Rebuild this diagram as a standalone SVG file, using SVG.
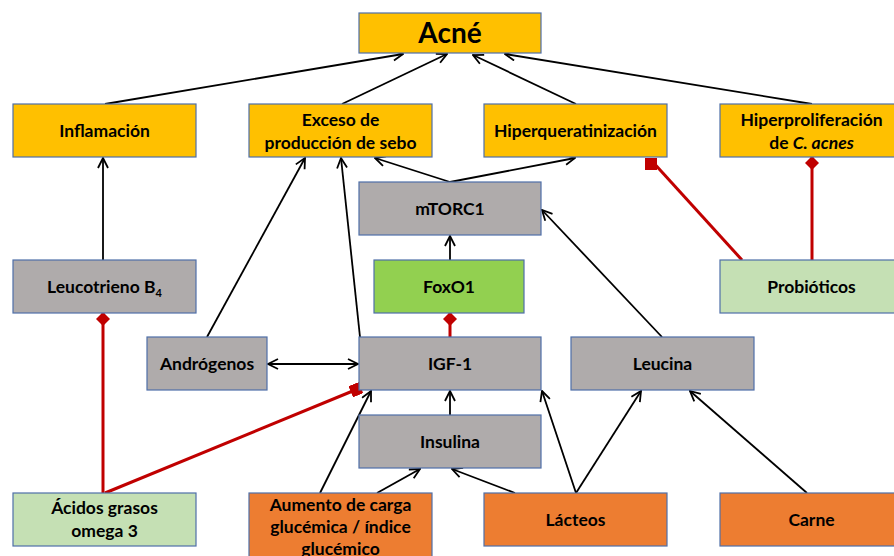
<svg xmlns="http://www.w3.org/2000/svg" width="894" height="556" viewBox="0 0 894 556">
<defs>
<style>
.b{stroke:#4F6FA8;stroke-width:1.2}
.y{fill:#FFC000}.g{fill:#AFABAB}.lg{fill:#C5E0B4}.gr{fill:#92D050}.o{fill:#ED7D31}
text{font-family:Lato,"Liberation Sans",sans-serif;font-weight:bold;font-size:17.5px;fill:#000;text-anchor:middle}
.k{stroke:#000;stroke-width:1.8;fill:none}
.r{stroke:#C00000;stroke-width:3;fill:none}
</style>
<marker id="a" viewBox="0 0 12 12" refX="11" refY="6" markerWidth="12" markerHeight="12" markerUnits="userSpaceOnUse" orient="auto-start-reverse">
<path d="M1,1 L11,6 L1,11" fill="none" stroke="#000" stroke-width="1.8"/>
</marker>
<marker id="d" viewBox="0 0 14 14" refX="13" refY="7" markerWidth="14" markerHeight="14" markerUnits="userSpaceOnUse" orient="auto">
<path d="M0,7 L7,0 L14,7 L7,14 Z" fill="#C00000"/>
</marker>
<marker id="s" viewBox="0 0 12 12" refX="10" refY="6" markerWidth="12" markerHeight="12" markerUnits="userSpaceOnUse" orient="auto">
<rect x="0" y="0" width="11" height="12" fill="#C00000"/>
</marker>
<marker id="s0" viewBox="0 0 12 12" refX="6" refY="2" markerWidth="12" markerHeight="12" markerUnits="userSpaceOnUse" orient="0">
<rect x="0" y="0" width="12" height="12" fill="#C00000"/>
</marker>
</defs>
<g id="connectors">
<line class="k" x1="105" y1="104" x2="403" y2="54" marker-end="url(#a)"/>
<line class="k" x1="342" y1="104" x2="447" y2="54" marker-end="url(#a)"/>
<line class="k" x1="576" y1="104" x2="473" y2="55" marker-end="url(#a)"/>
<line class="k" x1="812" y1="104" x2="505" y2="54" marker-end="url(#a)"/>
<line class="k" x1="103" y1="260" x2="103" y2="158" marker-end="url(#a)"/>
<line class="k" x1="207" y1="337" x2="305" y2="158" marker-end="url(#a)"/>
<line class="k" x1="360" y1="337" x2="341" y2="158" marker-end="url(#a)"/>
<line class="k" x1="450" y1="182" x2="375" y2="158" marker-end="url(#a)"/>
<line class="k" x1="450" y1="182" x2="575" y2="158" marker-end="url(#a)"/>
<line class="k" x1="450" y1="260" x2="450" y2="236" marker-end="url(#a)"/>
<line class="k" x1="662" y1="337" x2="542" y2="210" marker-end="url(#a)"/>
<line class="k" x1="268" y1="364" x2="358" y2="364" marker-start="url(#a)" marker-end="url(#a)"/>
<line class="k" x1="320" y1="493" x2="371" y2="391" marker-end="url(#a)"/>
<line class="k" x1="377" y1="493" x2="420" y2="469" marker-end="url(#a)"/>
<line class="k" x1="450" y1="415" x2="450" y2="391" marker-end="url(#a)"/>
<line class="k" x1="515" y1="493" x2="452" y2="469" marker-end="url(#a)"/>
<line class="k" x1="576" y1="493" x2="542" y2="391" marker-end="url(#a)"/>
<line class="k" x1="576" y1="493" x2="641" y2="391" marker-end="url(#a)"/>
<line class="k" x1="807" y1="493" x2="690" y2="391" marker-end="url(#a)"/>
<line class="r" x1="450" y1="337" x2="450" y2="313" marker-end="url(#d)"/>
<line class="r" x1="103" y1="493" x2="103" y2="313" marker-end="url(#d)"/>
<line class="r" x1="105" y1="493" x2="360" y2="388" marker-end="url(#s)"/>
<line class="r" x1="742" y1="260" x2="651" y2="160" marker-end="url(#s0)"/>
<line class="r" x1="812" y1="260" x2="812" y2="157" marker-end="url(#d)"/>
</g>
<g id="acne"><rect class="y b" x="359" y="13" width="182" height="40"/><text x="450" y="43" style="font-size:28px">Acné</text></g>
<g id="inflamacion"><rect class="y b" x="13" y="104" width="183" height="53"/><text x="104.5" y="137">Inflamación</text></g>
<g id="exceso"><rect class="y b" x="249" y="104" width="183" height="53"/><text x="340.5" y="126">Exceso de</text><text x="340.5" y="149">producción de sebo</text></g>
<g id="hiperqueratinizacion"><rect class="y b" x="484" y="104" width="183" height="53"/><text x="575.5" y="137">Hiperqueratinización</text></g>
<g id="hiperproliferacion"><rect class="y b" x="720" y="104" width="183" height="53"/><text x="811.5" y="126">Hiperproliferación</text><text x="811.5" y="149">de <tspan font-style="italic">C. acnes</tspan></text></g>
<g id="mtorc1"><rect class="g b" x="359" y="182" width="182" height="53"/><text x="450" y="215">mTORC1</text></g>
<g id="foxo1"><rect class="gr b" x="374" y="260" width="150" height="53"/><text x="449" y="293">FoxO1</text></g>
<g id="leucotrieno"><rect class="g b" x="13" y="260" width="183" height="53"/><text x="104.5" y="293">Leucotrieno B<tspan font-size="11" dy="4">4</tspan></text></g>
<g id="probioticos"><rect class="lg b" x="720" y="260" width="183" height="53"/><text x="811.5" y="293">Probióticos</text></g>
<g id="androgenos"><rect class="g b" x="147" y="337" width="120" height="53"/><text x="207" y="370">Andrógenos</text></g>
<g id="igf1"><rect class="g b" x="359" y="337" width="182" height="53"/><text x="450" y="370">IGF-1</text></g>
<g id="leucina"><rect class="g b" x="571" y="337" width="183" height="53"/><text x="662.5" y="370">Leucina</text></g>
<g id="insulina"><rect class="g b" x="359" y="415" width="182" height="53"/><text x="450" y="448">Insulina</text></g>
<g id="acidos"><rect class="lg b" x="13" y="493" width="183" height="53"/><text x="104.5" y="514">Ácidos grasos</text><text x="104.5" y="537">omega 3</text></g>
<g id="aumento"><rect class="o b" x="249" y="493" width="183" height="70"/><text x="340.5" y="511">Aumento de carga</text><text x="340.5" y="533">glucémica / índice</text><text x="340.5" y="555">glucémico</text></g>
<g id="lacteos"><rect class="o b" x="484" y="493" width="183" height="53"/><text x="575.5" y="526">Lácteos</text></g>
<g id="carne"><rect class="o b" x="720" y="493" width="183" height="53"/><text x="811.5" y="526">Carne</text></g>
</svg>
